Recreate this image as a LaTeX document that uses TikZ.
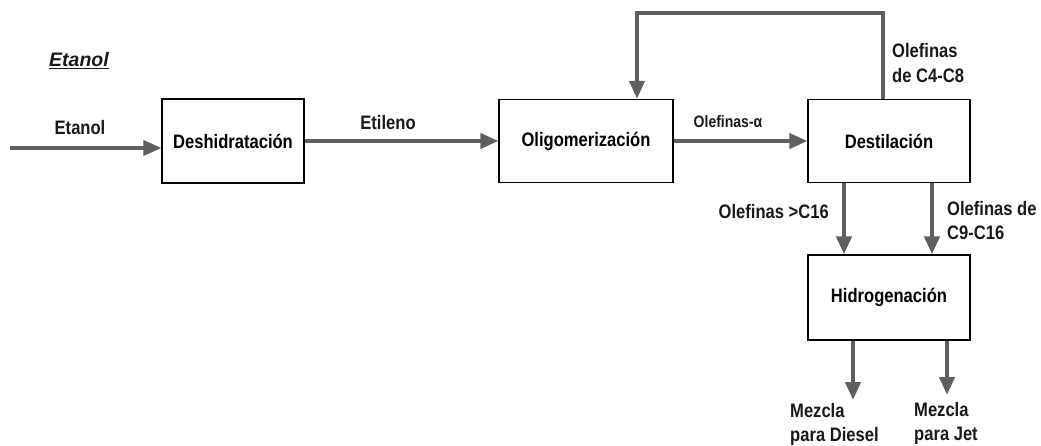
\documentclass[tikz,border=0pt]{standalone}
\usepackage{fontspec}
\setmainfont{Liberation Sans}[FakeStretch=0.85]
\newfontfamily\titulofont{Liberation Sans}
\usetikzlibrary{arrows.meta}
\definecolor{flujo}{HTML}{5F5F5F}
\begin{document}
\begin{tikzpicture}[x=1pt,y=-1pt,font=\fontsize{19.5}{24.5}\selectfont\bfseries,
box/.style={draw=black,line width=1.2pt,inner sep=0pt,align=center}, flow/.style={draw=flujo,line width=4pt,-{Triangle[length=18pt,width=15pt]}},
lbl/.style={inner sep=0pt,text=black!90,align=center}, lbll/.style={lbl,align=left,anchor=west}]
\useasboundingbox (0,0) rectangle (1041,446);
\node [lbl] (titulo) at (79,61) {\titulofont\bfseries\itshape\underline{Etanol}};
\node [box,minimum width=142pt,minimum height=84pt] (des) at (233,141) {Deshidratación};
\node [box,minimum width=174pt,minimum height=83pt] (oli) at (586,141) {Oligomerización};
\node [box,minimum width=162pt,minimum height=83pt] (dest) at (889,141) {Destilación};
\node [box,minimum width=162pt,minimum height=85pt] (hid) at (889,297.5) {Hidrogenación};
\coordinate (inicio) at (10,148);
\coordinate (r1) at (883,13);
\coordinate (r2) at (637,13);
\coordinate (a1) at (844,0);
\coordinate (a2) at (932,0);
\coordinate (b1) at (853,400);
\coordinate (b2) at (947,395);
\draw [flow] (inicio) -- (inicio -| des.west);
\draw [flow] (des.east) -- (oli.west);
\draw [flow] (oli.east) -- (dest.west);
\draw [flow] (r1 |- dest.north) -- (r1) -- (r2) -- (r2 |- oli.north);
\draw [flow] (a1 |- dest.south) -- (a1 |- hid.north);
\draw [flow] (a2 |- dest.south) -- (a2 |- hid.north);
\draw [flow] (b1 |- hid.south) -- (b1);
\draw [flow] (b2 |- hid.south) -- (b2);
\node [lbl] (etanol) at (80,128) {Etanol};
\node [lbl] (etileno) at (388,123) {Etileno};
\node [lbl,font=\fontsize{16.5}{19}\selectfont\bfseries] (alfa) at (728,122) {Olefinas-α};
\node [lbll] (ligeras) at (892,63) {Olefinas\\de C4-C8};
\node [lbl,anchor=east] (pesadas) at (829,212) {Olefinas >C16};
\node [lbll] (medias) at (947,220.5) {Olefinas de\\C9-C16};
\node [lbll] (diesel) at (790,424.5) {Mezcla\\para Diesel};
\node [lbll] (jet) at (914,423.5) {Mezcla\\para Jet};
\end{tikzpicture}
\end{document}
